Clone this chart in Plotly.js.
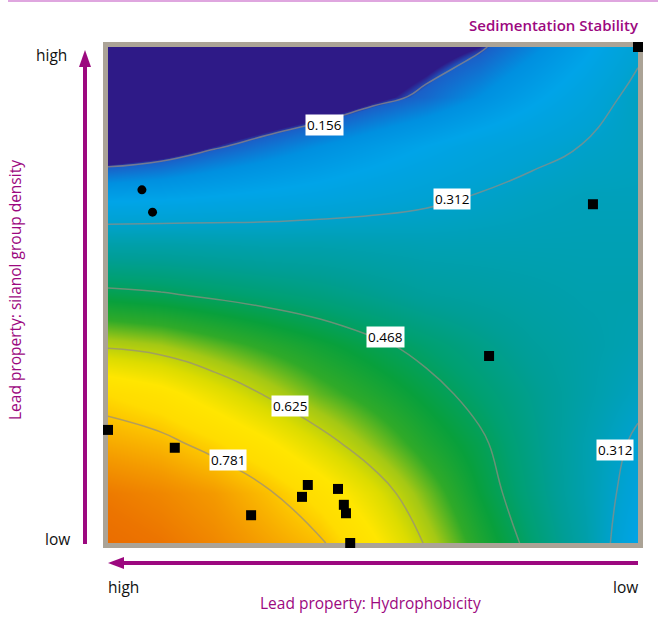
<!DOCTYPE html>
<html><head><meta charset="utf-8">
<script src="https://cdn.plot.ly/plotly-3.0.1.min.js"></script>
<style>html,body{margin:0;padding:0;background:#fff}#chart{width:658px;height:625px}</style>
</head><body><div id="chart"></div>
<script>
// ---- data ----
const gridX = [0,1,2,3,4,5,6,7,8,9,10];   // hydrophobicity (left = high)
const gridY = [0,1,2,3,4,5,6,7,8,9,10];   // silanol group density (bottom = low)
// sedimentation stability, rows from bottom (y=0) to top (y=10)
const stability = [
  [0.92,0.90,0.87,0.83,0.79,0.71,0.62,0.53,0.45,0.37,0.25],
  [0.89,0.87,0.84,0.79,0.73,0.66,0.58,0.50,0.43,0.36,0.28],
  [0.82,0.80,0.76,0.71,0.65,0.59,0.53,0.48,0.42,0.36,0.30],
  [0.75,0.72,0.67,0.62,0.57,0.53,0.49,0.45,0.41,0.37,0.33],
  [0.615,0.60,0.57,0.54,0.51,0.48,0.45,0.42,0.39,0.37,0.35],
  [0.485,0.475,0.46,0.445,0.43,0.41,0.39,0.38,0.37,0.36,0.36],
  [0.37,0.37,0.365,0.36,0.36,0.355,0.35,0.35,0.35,0.35,0.35],
  [0.235,0.24,0.25,0.26,0.27,0.285,0.30,0.315,0.33,0.34,0.34],
  [0.10,0.12,0.15,0.175,0.20,0.225,0.25,0.275,0.295,0.315,0.33],
  [0.03,0.05,0.07,0.09,0.11,0.14,0.165,0.20,0.24,0.28,0.33],
  [0.01,0.02,0.04,0.06,0.09,0.11,0.13,0.15,0.19,0.24,0.30]
];
const contourLevels = [0.15625, 0.3125, 0.46875, 0.625, 0.78125];
const contourLabels = ['0.156','0.312','0.468','0.625','0.781','0.312'];
const squareX = [10, 9.15, 7.19, 0, 1.26, 2.70, 3.66, 3.77, 4.34, 4.45, 4.49, 4.57];
const squareY = [10, 6.83, 3.77, 2.28, 1.92, 0.56, 0.93, 1.17, 1.09, 0.77, 0.60, 0];
const circleX = [0.64, 0.84];
const circleY = [7.12, 6.67];

// ---- layout helpers (pixel -> paper) ----
const L = 108, R = 638, T = 47, B = 543;
const px = v => (v - L) / (R - L);
const py = v => (B - v) / (B - T);
const purple = '#9c087f';
const labelPos = [[4.09,8.43],[6.49,6.94],[5.23,4.15],[3.43,2.76],[2.26,1.67],[9.57,1.875]];

const colorscale = [
  [0.00,'#2e1a87'],[0.150,'#2e1a87'],[0.158,'#1a60c8'],[0.20,'#0090e0'],
  [0.25,'#00a4e8'],[0.30,'#00a2d4'],[0.35,'#00a0b4'],[0.40,'#009e96'],
  [0.45,'#00a070'],[0.50,'#08a03c'],[0.55,'#30aa28'],[0.60,'#a4c814'],
  [0.65,'#dcdc00'],[0.70,'#ffe600'],[0.75,'#ffdc00'],[0.79,'#fbbe00'],
  [0.84,'#f49a00'],[0.90,'#ec7400'],[1.00,'#e45200']
];

const traces = [
  {type:'heatmap', x:gridX, y:gridY, z:stability, zsmooth:'best',
   colorscale:colorscale, zmin:0, zmax:1, showscale:false, hoverinfo:'skip'},
  {type:'contour', x:gridX, y:gridY, z:stability, showscale:false, hoverinfo:'skip',
   autocontour:false,
   contours:{start:contourLevels[0], end:contourLevels[contourLevels.length-1],
             size:contourLevels[1]-contourLevels[0], coloring:'none', showlabels:false},
   line:{color:'rgba(150,140,130,0.7)', width:1.5, smoothing:1.3}},
  {type:'scatter', mode:'markers', x:squareX, y:squareY, cliponaxis:false, hoverinfo:'skip',
   marker:{symbol:'square', size:10, color:'#000'}},
  {type:'scatter', mode:'markers', x:circleX, y:circleY, cliponaxis:false, hoverinfo:'skip',
   marker:{symbol:'circle', size:9, color:'#000'}}
];

const font = 'Open Sans, Lato, sans-serif';
const annotations = contourLabels.map((t,i)=>({
  x:labelPos[i][0], y:labelPos[i][1], xref:'x', yref:'y', text:t, showarrow:false,
  bgcolor:'#fff', borderpad:1, font:{family:font, size:13.5, color:'#000'}
}));
const txt = (t,x,y,extra) => Object.assign({text:t, x:px(x), y:py(y), xref:'paper', yref:'paper',
  showarrow:false, xanchor:'center', yanchor:'middle',
  font:{family:font, size:15.5, color:'#111', weight:500}}, extra||{});
annotations.push(
  txt('high',51,55), txt('low',58,539), txt('high',123,587), txt('low',625,587),
  txt('Lead property: Hydrophobicity',370,603,{font:{family:font,size:15.5,color:purple,weight:500}}),
  txt('Lead property: silanol group density',15,290,{textangle:-90,font:{family:font,size:15.5,color:purple,weight:500}})
);

const shapes = [
  {type:'line', xref:'paper', yref:'paper', x0:px(8), x1:px(658), y0:py(1), y1:py(1),
   line:{color:'#dfa6df', width:2}},
  {type:'line', xref:'paper', yref:'paper', x0:px(85), x1:px(85), y0:py(544), y1:py(64),
   line:{color:purple, width:4}},
  {type:'path', xref:'paper', yref:'paper', fillcolor:purple, line:{width:0},
   path:`M ${px(85)} ${py(50)} L ${px(79)} ${py(67)} L ${px(91)} ${py(67)} Z`},
  {type:'line', xref:'paper', yref:'paper', x0:px(638), x1:px(120), y0:py(563), y1:py(563),
   line:{color:purple, width:4}},
  {type:'path', xref:'paper', yref:'paper', fillcolor:purple, line:{width:0},
   path:`M ${px(108)} ${py(563)} L ${px(124)} ${py(557)} L ${px(124)} ${py(569)} Z`}
];

const axis = {range:[0,10], showticklabels:false, ticks:'', showgrid:false, zeroline:false,
  showline:true, mirror:true, linecolor:'#aba396', linewidth:5, layer:'below traces', fixedrange:true};

const layout = {
  width:658, height:625, paper_bgcolor:'#fff', plot_bgcolor:'#fff',
  margin:{l:L, r:658-R, t:T, b:625-B},
  showlegend:false,
  title:{text:'Sedimentation Stability', xref:'paper', x:1, xanchor:'right',
         yref:'container', y:1-26/625, yanchor:'middle',
         font:{family:font, size:15, color:purple, weight:600}},
  xaxis:Object.assign({}, axis), yaxis:Object.assign({}, axis),
  annotations:annotations, shapes:shapes
};
Plotly.newPlot('chart', traces, layout, {displayModeBar:false, staticPlot:true});
</script>
</body></html>
